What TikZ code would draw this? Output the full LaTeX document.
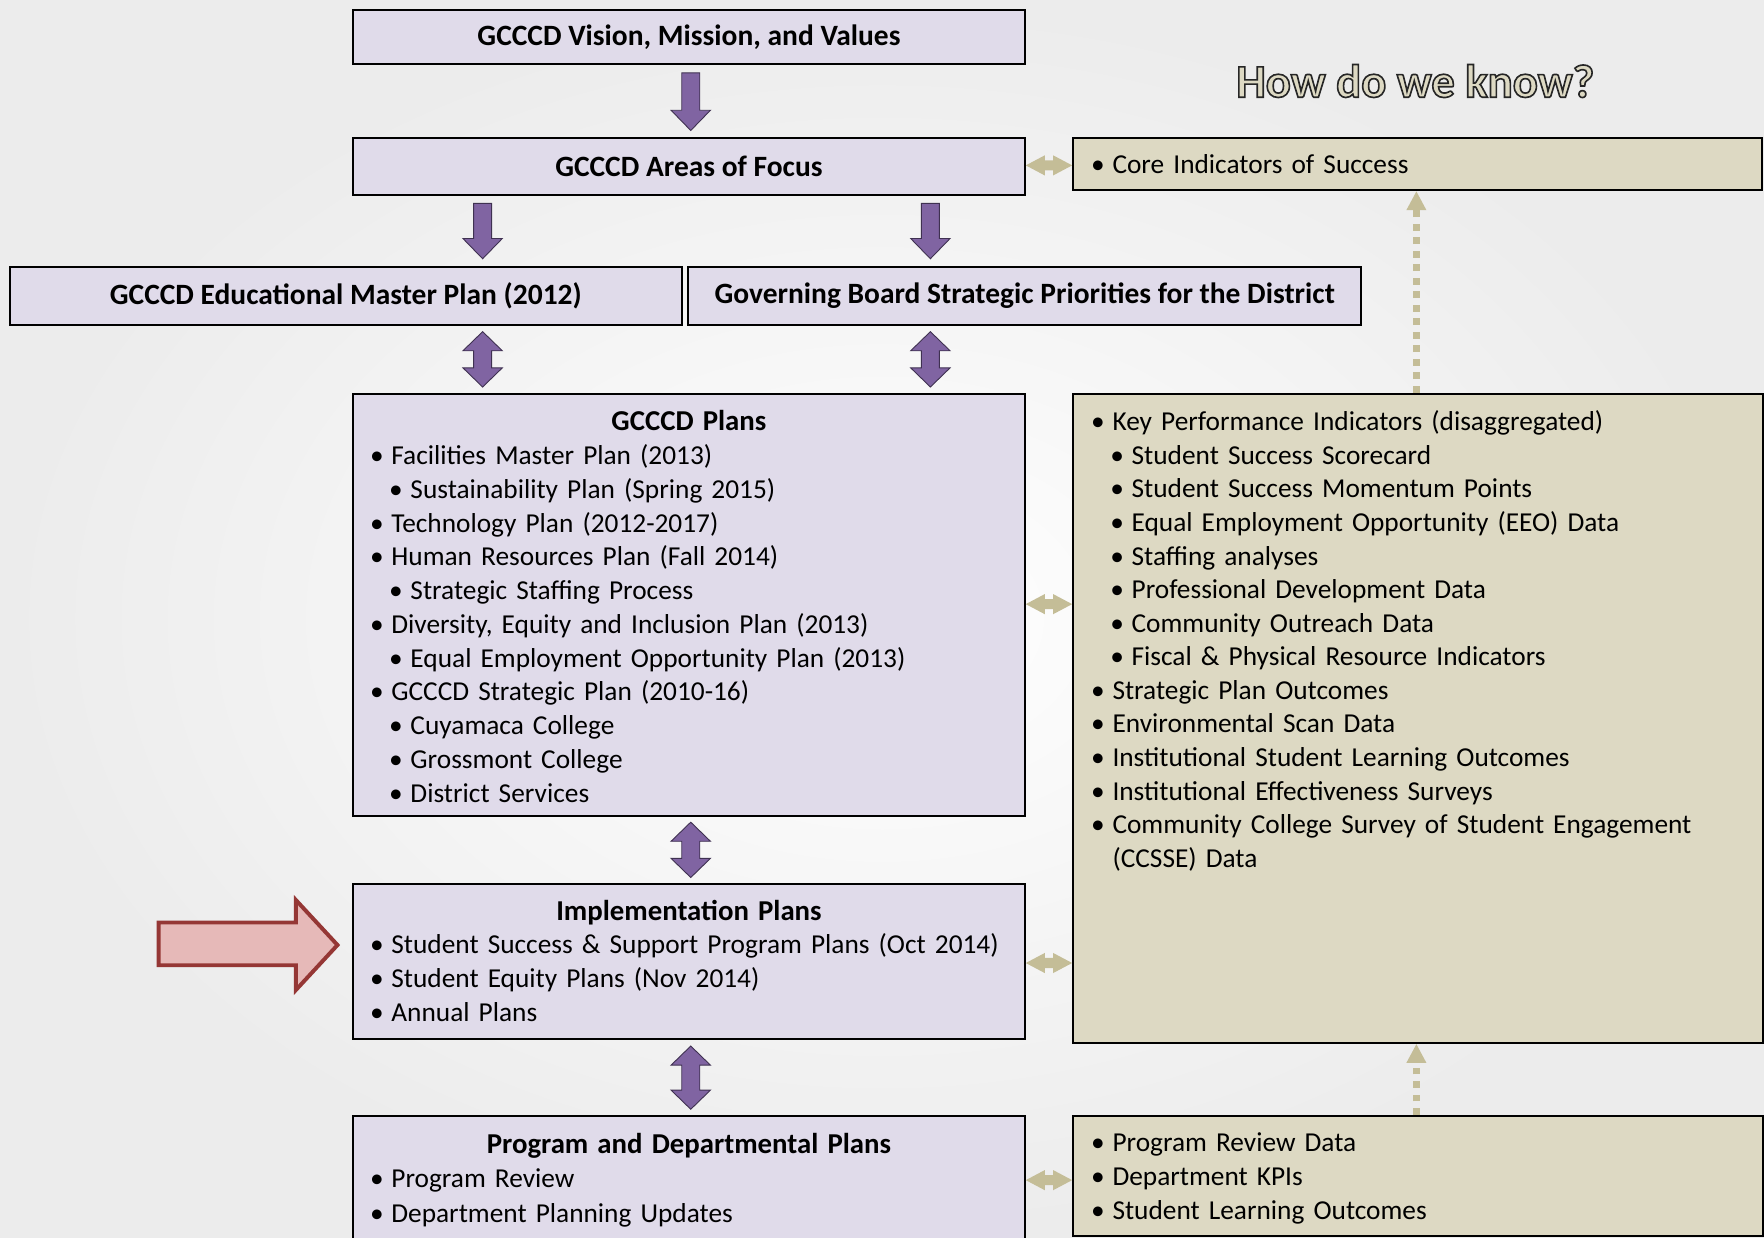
\documentclass[tikz,border=0pt]{standalone}
\usepackage{fontspec}
\setmainfont{Carlito}
\newfontfamily\hdwfont[RawFeature={embolden=3.5}]{Carlito}
\usetikzlibrary{calc,arrows.meta}

\definecolor{planfill}{HTML}{E0DBEA}
\definecolor{datafill}{HTML}{DDD9C3}
\definecolor{blkpurple}{HTML}{8064A2}
\definecolor{blkline}{HTML}{3F3151}
\definecolor{tanarrow}{HTML}{C4BD97}
\definecolor{pinkfill}{HTML}{E6B9B8}
\definecolor{pinkline}{HTML}{953735}

% list lines inside the boxes
\newcommand{\bul}[1]{\noindent\makebox[14pt][l]{\hspace*{-5pt}\textbullet}\mbox{#1}\par}
\newcommand{\subbul}[1]{\noindent\hspace*{17pt}\makebox[14pt][l]{\hspace*{-5pt}\textbullet}\mbox{#1}\par}
\newcommand{\cont}[1]{\noindent\hspace*{14pt}\mbox{#1}\par}
\newcommand{\boxtitle}[1]{{\centering\fontsize{25.6}{\baselineskip}\bfseries\selectfont #1\par}}

% tan letters with a dark stroke
\newcommand{\outlined}[1]{%
  \special{pdf:bcolor [0.867 0.851 0.765] [0.15 0.15 0.15]}#1\special{pdf:ecolor}}

% block arrows between boxes
\newcommand{\downblk}[3]{%
  \draw[blk] ($(#2.south -| #1)+(-8,7)$) -- ($(#2.south -| #1)+(8,7)$)
    -- ($(#3.north -| #1)+(8,-24)$) -- ($(#3.north -| #1)+(17.5,-24)$)
    -- ($(#3.north -| #1)+(0,-6)$) -- ($(#3.north -| #1)+(-17.5,-24)$)
    -- ($(#3.north -| #1)+(-8,-24)$) -- cycle;}
\newcommand{\updownblk}[3]{%
  \draw[blk] ($(#2.south -| #1)+(0,5)$) -- ($(#2.south -| #1)+(17.5,22)$)
    -- ($(#2.south -| #1)+(8,22)$) -- ($(#3.north -| #1)+(8,-22)$)
    -- ($(#3.north -| #1)+(17.5,-22)$) -- ($(#3.north -| #1)+(0,-5)$)
    -- ($(#3.north -| #1)+(-17.5,-22)$) -- ($(#3.north -| #1)+(-8,-22)$)
    -- ($(#2.south -| #1)+(-8,22)$) -- ($(#2.south -| #1)+(-17.5,22)$) -- cycle;}
\newcommand{\lrblk}[3]{%
  \fill[tanblk] (#2.east |- #1) -- ++(17,-9) -- ++(0,4.5)
    -- ($(#3.west |- #1)+(-17,-4.5)$) -- ++(0,-4.5) -- (#3.west |- #1)
    -- ++(-17,9) -- ++(0,-4.5) -- ($(#2.east |- #1)+(17,4.5)$) -- ++(0,4.5) -- cycle;}

\tikzset{
  planbox/.style={draw=black, line width=1.8pt, fill=planfill, inner xsep=20pt,
    inner ysep=0pt, anchor=north west, font=\fontsize{24.3}{30}\selectfont},
  databox/.style={planbox, fill=datafill, inner xsep=21pt,
    font=\fontsize{24.3}{29.85}\selectfont},
  headbox/.style={draw=black, line width=1.8pt, fill=planfill, inner sep=0pt,
    anchor=north west, font=\fontsize{26.2}{30}\selectfont\bfseries},
  blk/.style={draw=blkline, line width=0.8pt, fill=blkpurple},
  tanblk/.style={fill=tanarrow},
  dasharr/.style={draw=tanarrow, line width=6pt, dash pattern=on 6pt off 6pt,
    -{Triangle[width=16.5pt,length=17pt]}},
}

\begin{document}
\begin{tikzpicture}[x=1pt, y=-1pt]
  \useasboundingbox (0,0) rectangle (1568,1100);
  \shade[inner color=white, outer color=gray!15] (0,0) rectangle (1568,1100);

  % left column of plans
  \node[headbox, minimum width=597pt, minimum height=48pt] (vision) at (313,8)
    {GCCCD Vision, Mission, and Values};
  \node[headbox, minimum width=597pt, minimum height=50pt] (areas) at (313,122)
    {GCCCD Areas of Focus};
  \node[headbox, minimum width=597pt, minimum height=52pt] (emp) at (8,236)
    {GCCCD Educational Master Plan (2012)};
  \node[headbox, minimum width=598pt, minimum height=52pt] (board) at (611,236)
    {Governing Board Strategic Priorities for the District};
  \node[planbox, text width=557pt, text height=33pt, text depth=342pt] (plans) at (313,349) {%
    \boxtitle{GCCCD Plans}
    \bul{Facilities Master Plan (2013)}
    \subbul{Sustainability Plan (Spring 2015)}
    \bul{Technology Plan (2012-2017)}
    \bul{Human Resources Plan (Fall 2014)}
    \subbul{Strategic Staffing Process}
    \bul{Diversity, Equity and Inclusion Plan (2013)}
    \subbul{Equal Employment Opportunity Plan (2013)}
    \bul{GCCCD Strategic Plan (2010-16)}
    \subbul{Cuyamaca College}
    \subbul{Grossmont College}
    \subbul{District Services}};
  \node[planbox, text width=557pt, text height=32pt, text depth=106pt] (impl) at (313,785) {%
    \boxtitle{Implementation Plans}
    \bul{Student Success \& Support Program Plans (Oct 2014)}
    \bul{Student Equity Plans (Nov 2014)}
    \bul{Annual Plans}};
  \node[planbox, text width=557pt, text height=33pt, text depth=91pt,
    font=\fontsize{24.3}{31}\selectfont] (prog) at (313,991) {%
    \boxtitle{Program and Departmental Plans}
    \bul{Program Review}
    \bul{Department Planning Updates}};

  % right column of evidence
  \node[font=\hdwfont\bfseries\fontsize{41.5}{48}\selectfont] (howknow) at (1258,72)
    {\outlined{How do we know?}};
  \node[databox, text width=570pt, text height=31pt, text depth=15pt] (core) at (953,122) {%
    \bul{Core Indicators of Success}};
  \node[databox, text width=571pt, text height=33pt, text depth=544pt] (kpi) at (953,349) {%
    \bul{Key Performance Indicators (disaggregated)}
    \subbul{Student Success Scorecard}
    \subbul{Student Success Momentum Points}
    \subbul{Equal Employment Opportunity (EEO) Data}
    \subbul{Staffing analyses}
    \subbul{Professional Development Data}
    \subbul{Community Outreach Data}
    \subbul{Fiscal \& Physical Resource Indicators}
    \bul{Strategic Plan Outcomes}
    \bul{Environmental Scan Data}
    \bul{Institutional Student Learning Outcomes}
    \bul{Institutional Effectiveness Surveys}
    \bul{Community College Survey of Student Engagement}
    \cont{(CCSSE) Data}};
  \node[databox, text width=571pt, text height=32pt, text depth=75pt] (prd) at (953,991) {%
    \bul{Program Review Data}
    \bul{Department KPIs}
    \bul{Student Learning Outcomes}};

  % arrow columns and rows
  \coordinate (colA) at (614,0);
  \coordinate (colB) at (429,0);
  \coordinate (colC) at (827,0);
  \coordinate (colD) at (1259,0);
  \coordinate (rowA) at (0,147);
  \coordinate (rowB) at (0,537);
  \coordinate (rowC) at (0,856);
  \coordinate (rowD) at (0,1049);

  \downblk{colA}{vision}{areas}
  \downblk{colB}{areas}{emp}
  \downblk{colC}{areas}{board}
  \updownblk{colB}{emp}{plans}
  \updownblk{colC}{board}{plans}
  \updownblk{colA}{plans}{impl}
  \updownblk{colA}{impl}{prog}

  \lrblk{rowA}{areas}{core}
  \lrblk{rowB}{plans}{kpi}
  \lrblk{rowC}{impl}{kpi}
  \lrblk{rowD}{prog}{prd}

  \draw[dasharr] (kpi.north -| colD) -- (core.south -| colD);
  \draw[dasharr] (prd.north -| colD) -- (kpi.south -| colD);

  % pointer to the implementation plans
  \draw[draw=pinkline, fill=pinkfill, line width=3.5pt] (141,820) -- (263,820) -- (263,800)
    -- (300,840) -- (263,880) -- (263,858) -- (141,858) -- cycle;
\end{tikzpicture}
\end{document}
